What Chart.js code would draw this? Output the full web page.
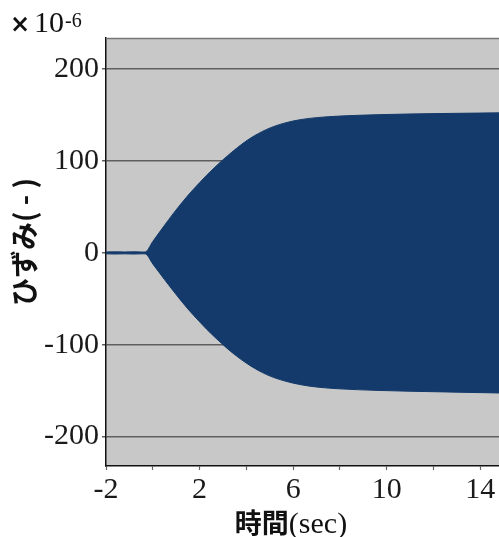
<!DOCTYPE html>
<html>
<head>
<meta charset="utf-8">
<script src="https://cdn.jsdelivr.net/npm/chart.js@4/dist/chart.umd.min.js"></script>
<style>
  html, body { margin: 0; padding: 0; background: #ffffff; }
  canvas { display: block; }
</style>
</head>
<body>
<canvas id="c" width="499" height="537"></canvas>
<script>
// Time axis (sec) and the envelope of the strain response (×10^-6)
const timeSec = [-2, -1.6, -1.2, -0.8, -0.5, -0.33, 0, 0.5, 0.88, 1.5, 2.02, 2.3, 2.94, 3.44, 4.15, 4.87, 5.58, 6.29, 7.0, 8.0, 9.5, 11.0, 13.0, 14.8];
const upperStrain = [1, 1.2, 1, 1.2, 1, 1, 12.5, 30, 43, 62.5, 77, 84.5, 100, 111, 124.5, 134.5, 141, 145, 147.3, 149, 150.4, 151.3, 152, 152.5];
const lowerStrain = [-1, -1.2, -1, -1.2, -1, -1, -12, -29, -41.5, -61, -75.5, -83, -98.5, -109.5, -122.5, -132.5, -139, -143.3, -146, -148, -149.6, -150.6, -151.6, -152.5];

const xTicks = [-2, 2, 6, 10, 14];
const yTicks = [-200, -100, 0, 100, 200];

const BLUE = '#133a6a';

const toPoints = (ys) => timeSec.map((t, i) => ({ x: t, y: ys[i] }));

const plotDecor = {
  id: 'plotDecor',
  beforeDraw(chart) {
    const { ctx, chartArea: a } = chart;
    ctx.save();
    ctx.fillStyle = '#c8c8c8';
    ctx.fillRect(a.left, a.top, a.right - a.left, a.bottom - a.top);
    ctx.restore();
  },
  afterDraw(chart) {
    const { ctx, chartArea: a } = chart;
    ctx.save();
    // top frame line
    ctx.strokeStyle = '#777777';
    ctx.lineWidth = 1.5;
    ctx.beginPath();
    ctx.moveTo(a.left, a.top + 0.5);
    ctx.lineTo(a.right, a.top + 0.5);
    ctx.stroke();

    ctx.fillStyle = '#111111';
    ctx.textBaseline = 'alphabetic';
    ctx.textAlign = 'left';
    // exponent header
    ctx.font = 'bold 24px "DejaVu Sans"';
    ctx.fillText('×', 10, 32);
    ctx.font = '30px "Liberation Serif"';
    ctx.fillText('10', 34, 32);
    ctx.font = '20px "Liberation Serif"';
    ctx.fillText('-6', 65, 27);

    // x axis title: 時間(sec)
    const cjk = 'bold 27px "Noto Sans CJK JP"';
    const ser = '30px "Liberation Serif"';
    ctx.font = cjk;
    const w1 = ctx.measureText('時間').width;
    ctx.font = ser;
    const w2 = ctx.measureText('(sec)').width;
    const cx = 291;
    const x0 = cx - (w1 + w2) / 2;
    ctx.font = cjk;
    ctx.fillText('時間', x0, 533);
    ctx.font = ser;
    ctx.fillText('(sec)', x0 + w1, 533);

    // y axis title
    ctx.translate(24, 242);
    ctx.rotate(-Math.PI / 2);
    ctx.textAlign = 'center';
    ctx.textBaseline = 'middle';
    ctx.font = 'bold 28px "Noto Sans CJK JP"';
    ctx.fillText('ひずみ( - )', 0, 0);
    ctx.restore();
  }
};

new Chart(document.getElementById('c'), {
  type: 'line',
  data: {
    datasets: [
      {
        data: toPoints(upperStrain),
        borderColor: BLUE,
        backgroundColor: BLUE,
        borderWidth: 1,
        pointRadius: 0,
        cubicInterpolationMode: 'monotone',
        fill: '+1'
      },
      {
        data: toPoints(lowerStrain),
        borderColor: BLUE,
        backgroundColor: BLUE,
        borderWidth: 1,
        pointRadius: 0,
        cubicInterpolationMode: 'monotone',
        fill: false
      }
    ]
  },
  options: {
    responsive: false,
    animation: false,
    devicePixelRatio: 1,
    layout: { padding: { top: 38, right: 0, left: 0, bottom: 0 } },
    plugins: { legend: { display: false }, tooltip: { enabled: false } },
    scales: {
      x: {
        type: 'linear',
        min: -2,
        max: 14.8,
        afterBuildTicks(scale) {
          const t = [];
          for (let v = -2; v <= 14; v += 2) t.push({ value: v });
          scale.ticks = t;
        },
        afterFit(scale) { scale.height = 71; },
        grid: {
          drawOnChartArea: false,
          drawTicks: true,
          tickLength: 4,
          tickColor: '#666666',
          tickWidth: 1.2
        },
        border: { color: '#111111', width: 1.5 },
        ticks: {
          autoSkip: false,
          maxRotation: 0,
          padding: 2,
          color: '#1a1a1a',
          font: { family: '"Liberation Serif"', size: 30 },
          callback: (v) => (xTicks.includes(v) ? String(v) : '')
        }
      },
      y: {
        type: 'linear',
        min: -232,
        max: 234,
        afterBuildTicks(scale) {
          scale.ticks = yTicks.map((v) => ({ value: v }));
        },
        afterFit(scale) { scale.width = 106; },
        grid: {
          color: '#5e5e5e',
          lineWidth: 1.5,
          tickLength: 4
        },
        border: { color: '#111111', width: 1.5 },
        ticks: {
          padding: 3,
          color: '#1a1a1a',
          font: { family: '"Liberation Serif"', size: 30 }
        }
      }
    }
  },
  plugins: [plotDecor]
});
</script>
</body>
</html>
